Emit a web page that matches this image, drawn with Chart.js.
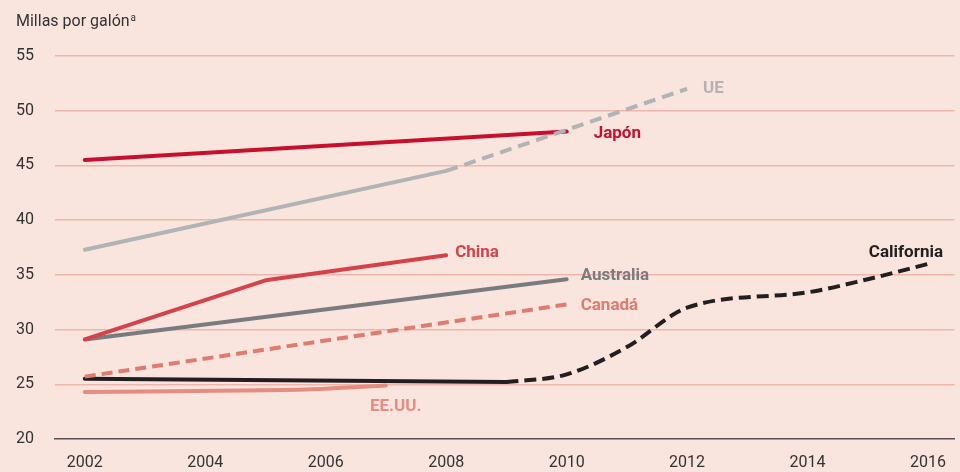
<!DOCTYPE html>
<html>
<head>
<meta charset="utf-8">
<script src="https://cdn.jsdelivr.net/npm/chart.js@4"></script>
<style>
  html, body { margin: 0; padding: 0; background: #f9e4de; }
  #wrap { width: 960px; height: 472px; }
</style>
</head>
<body>
<div id="wrap"><canvas id="chart"></canvas></div>
<script>
//Values (year, miles per gallon)
let japanYears = [2002, 2010];
let japanMpg = [45.5, 48.1];

let euYears = [2002, 2008];
let euMpg = [37.3, 44.5];
let euTargetYears = [2008, 2012];
let euTargetMpg = [44.5, 52.0];

let chinaYears = [2002, 2005, 2008];
let chinaMpg = [29.1, 34.5, 36.8];

let australiaYears = [2002, 2010];
let australiaMpg = [29.1, 34.6];

let canadaYears = [2002, 2010];
let canadaMpg = [25.7, 32.3];

let usaYears = [2002, 2005, 2006, 2007];
let usaMpg = [24.3, 24.45, 24.6, 24.9];

let calYears = [2002, 2009];
let calMpg = [25.5, 25.2];
let calTargetYears = [2009, 2010, 2011, 2012, 2014, 2015, 2016];
let calTargetMpg = [25.2, 25.9, 28.4, 32.0, 33.4, 34.6, 36.0];

let xTicks = [2002, 2004, 2006, 2008, 2010, 2012, 2014, 2016];
let yTicks = [20, 25, 30, 35, 40, 45, 50, 55];

let FONT = "'Roboto', sans-serif";

//turn two lists into points
function pts(xs, ys) {
  let out = [];
  for (let i = 0; i < xs.length; i++) out.push({x: xs[i], y: ys[i]});
  return out;
}

function line(xs, ys, color, dash, curved, label, dx, dy, align) {
  return {
    data: pts(xs, ys),
    borderColor: color,
    borderWidth: 4,
    borderDash: dash || [],
    borderCapStyle: dash ? 'butt' : 'round',
    borderJoinStyle: 'round',
    pointRadius: 0,
    fill: false,
    tension: 0,
    cubicInterpolationMode: curved ? 'monotone' : 'default',
    tag: label ? {text: label, dx: dx, dy: dy, align: align || 'left'} : null
  };
}

//draws the series names next to the line ends, and the axis title
let endLabels = {
  id: 'endLabels',
  afterDatasetsDraw(chart) {
    let ctx = chart.ctx;
    let xs = chart.scales.x, ys = chart.scales.y;
    ctx.save();
    ctx.textBaseline = 'middle';
    chart.data.datasets.forEach(ds => {
      if (!ds.tag) return;
      let last = ds.data[ds.data.length - 1];
      ctx.font = "bold 17px " + FONT;
      ctx.fillStyle = ds.borderColor;
      ctx.textAlign = ds.tag.align;
      ctx.fillText(ds.tag.text, xs.getPixelForValue(last.x) + ds.tag.dx, ys.getPixelForValue(last.y) + ds.tag.dy);
    });
    ctx.fillStyle = '#333333';
    ctx.textAlign = 'left';
    ctx.font = "16px " + FONT;
    ctx.fillText('Millas por galón', 16, 22);
    let w = ctx.measureText('Millas por galón').width;
    ctx.font = "10px " + FONT;
    ctx.fillText('a', 16 + w + 1, 18);
    ctx.restore();
  }
};

new Chart(document.getElementById('chart'), {
  type: 'line',
  data: {
    datasets: [
      line(euYears, euMpg, '#b1b3b5'),
      line(euTargetYears, euTargetMpg, '#b1b3b5', [12, 7], false, 'UE', 16, 0),
      line(japanYears, japanMpg, '#c8102e', null, false, 'Japón', 27, 2),
      line(chinaYears, chinaMpg, '#d5434a', null, false, 'China', 9, -2),
      line(australiaYears, australiaMpg, '#797b7f', null, false, 'Australia', 14, -3),
      line(canadaYears, canadaMpg, '#e07b6f', [11, 6], false, 'Canadá', 14, 1),
      line(usaYears, usaMpg, '#e58d82', null, true, 'EE.UU.', -16, 21),
      line(calYears, calMpg, '#231f20'),
      line(calTargetYears, calTargetMpg, '#231f20', [12, 6], true, 'California', 15, -11, 'right')
    ]
  },
  options: {
    responsive: true,
    maintainAspectRatio: false,
    animation: false,
    layout: {padding: {left: 16, top: 56, right: 0, bottom: 0}},
    plugins: {legend: {display: false}, tooltip: {enabled: false}},
    scales: {
      x: {
        type: 'linear',
        min: 2001.505,
        max: 2016.44,
        afterBuildTicks: s => { s.ticks = xTicks.map(v => ({value: v})); },
        afterFit: s => { s.height = 33; },
        ticks: {color: '#333333', font: {family: FONT, size: 16}, padding: 14, callback: v => String(v)},
        grid: {display: false, drawTicks: false},
        border: {display: true, color: '#555050', width: 1.5}
      },
      y: {
        min: 20,
        max: 55,
        afterBuildTicks: s => { s.ticks = yTicks.map(v => ({value: v})); },
        afterFit: s => { s.width = 39; },
        ticks: {color: '#333333', font: {family: FONT, size: 16}, crossAlign: 'far', padding: 0},
        grid: {
          color: c => c.tick.value === 20 ? 'rgba(0,0,0,0)' : '#f0b6ab',
          lineWidth: 1.5,
          drawTicks: false
        },
        border: {display: false}
      }
    }
  },
  plugins: [endLabels]
});
</script>
</body>
</html>
